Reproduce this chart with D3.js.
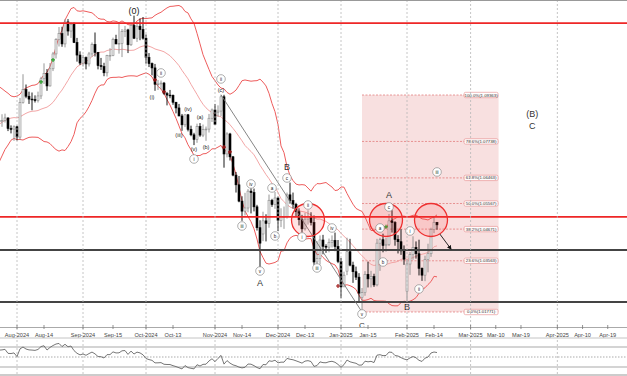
<!DOCTYPE html>
<html><head><meta charset="utf-8">
<script src="https://cdn.jsdelivr.net/npm/d3@7"></script>
<style>body{margin:0;background:#fff;}svg{display:block;font-family:"Liberation Sans",Arial,sans-serif;}</style>
</head><body><svg id="c" width="627" height="376"></svg>
<script>
// ---------------- DATA ----------------
const dates = ["2024-06-26","2024-06-27","2024-06-28","2024-07-01","2024-07-02","2024-07-03","2024-07-04","2024-07-05","2024-07-08","2024-07-09","2024-07-10","2024-07-11","2024-07-12","2024-07-15","2024-07-16","2024-07-17","2024-07-18","2024-07-19","2024-07-22","2024-07-23","2024-07-24","2024-07-25","2024-07-26","2024-07-29","2024-07-30","2024-07-31","2024-08-01","2024-08-02","2024-08-05","2024-08-06","2024-08-07","2024-08-08","2024-08-09","2024-08-12","2024-08-13","2024-08-14","2024-08-15","2024-08-16","2024-08-19","2024-08-20","2024-08-21","2024-08-22","2024-08-23","2024-08-26","2024-08-27","2024-08-28","2024-08-29","2024-08-30","2024-09-02","2024-09-03","2024-09-04","2024-09-05","2024-09-06","2024-09-09","2024-09-10","2024-09-11","2024-09-12","2024-09-13","2024-09-16","2024-09-17","2024-09-18","2024-09-19","2024-09-20","2024-09-23","2024-09-24","2024-09-25","2024-09-26","2024-09-27","2024-09-30","2024-10-01","2024-10-02","2024-10-03","2024-10-04","2024-10-07","2024-10-08","2024-10-09","2024-10-10","2024-10-11","2024-10-14","2024-10-15","2024-10-16","2024-10-17","2024-10-18","2024-10-21","2024-10-22","2024-10-23","2024-10-24","2024-10-25","2024-10-28","2024-10-29","2024-10-30","2024-10-31","2024-11-01","2024-11-04","2024-11-05","2024-11-06","2024-11-07","2024-11-08","2024-11-11","2024-11-12","2024-11-13","2024-11-14","2024-11-15","2024-11-18","2024-11-19","2024-11-20","2024-11-21","2024-11-22","2024-11-25","2024-11-26","2024-11-27","2024-11-28","2024-11-29","2024-12-02","2024-12-03","2024-12-04","2024-12-05","2024-12-06","2024-12-09","2024-12-10","2024-12-11","2024-12-12","2024-12-13","2024-12-16","2024-12-17","2024-12-18","2024-12-19","2024-12-20","2024-12-23","2024-12-24","2024-12-26","2024-12-27","2024-12-30","2024-12-31","2025-01-02","2025-01-03","2025-01-06","2025-01-07","2025-01-08","2025-01-09","2025-01-10","2025-01-13","2025-01-14","2025-01-15","2025-01-16","2025-01-17","2025-01-20","2025-01-21","2025-01-22","2025-01-23","2025-01-24","2025-01-27","2025-01-28","2025-01-29","2025-01-30","2025-01-31","2025-02-03","2025-02-04","2025-02-05","2025-02-06","2025-02-07","2025-02-10","2025-02-11","2025-02-12","2025-02-13","2025-02-14","2025-02-17"];
const opens = [1.0714,1.0682,1.0701,1.0713,1.0740,1.0742,1.0790,1.0810,1.0840,1.0825,1.0813,1.0830,1.0866,1.0907,1.0893,1.0899,1.0939,1.0898,1.0882,1.0891,1.0846,1.0843,1.0847,1.0856,1.0819,1.0817,1.0825,1.0789,1.0910,1.0955,1.0932,1.0922,1.0920,1.0917,1.0933,1.0993,1.1012,1.0968,1.1028,1.1080,1.1130,1.1151,1.1115,1.1192,1.1160,1.1184,1.1120,1.1076,1.1048,1.1067,1.1045,1.1080,1.1113,1.1085,1.1039,1.1036,1.1014,1.1074,1.1075,1.1131,1.1115,1.1117,1.1159,1.1164,1.1112,1.1180,1.1135,1.1177,1.1165,1.1135,1.1068,1.1046,1.1031,1.0974,1.0975,1.0978,1.0941,1.0936,1.0935,1.0911,1.0891,1.0863,1.0832,1.0867,1.0816,1.0797,1.0781,1.0826,1.0796,1.0815,1.0817,1.0855,1.0884,1.0875,1.0880,1.0930,1.0730,1.0800,1.0720,1.0656,1.0622,1.0565,1.0530,1.0541,1.0600,1.0595,1.0545,1.0472,1.0450,1.0496,1.0487,1.0568,1.0553,1.0576,1.0497,1.0511,1.0511,1.0587,1.0567,1.0554,1.0528,1.0500,1.0468,1.0502,1.0510,1.0490,1.0352,1.0365,1.0429,1.0407,1.0404,1.0421,1.0428,1.0406,1.0354,1.0265,1.0320,1.0388,1.0341,1.0318,1.0299,1.0228,1.0245,1.0309,1.0293,1.0301,1.0272,1.0418,1.0430,1.0410,1.0414,1.0496,1.0490,1.0431,1.0423,1.0391,1.0250,1.0345,1.0378,1.0403,1.0381,1.0330,1.0306,1.0361,1.0381,1.0466,1.0491];
const highs = [1.0717,1.0721,1.0724,1.0776,1.0750,1.0815,1.0817,1.0845,1.0845,1.0830,1.0834,1.0872,1.0910,1.0910,1.0902,1.0948,1.0946,1.0907,1.0905,1.0895,1.0868,1.0869,1.0871,1.0858,1.0830,1.0830,1.0829,1.0926,1.1009,1.0973,1.0948,1.0945,1.0935,1.0948,1.1000,1.1047,1.1027,1.1048,1.1087,1.1135,1.1174,1.1175,1.1201,1.1202,1.1190,1.1190,1.1136,1.1089,1.1077,1.1071,1.1087,1.1120,1.1155,1.1087,1.1066,1.1049,1.1077,1.1100,1.1137,1.1147,1.1189,1.1167,1.1178,1.1168,1.1189,1.1214,1.1191,1.1204,1.1209,1.1148,1.1083,1.1050,1.1045,1.0989,1.0987,1.0982,1.0947,1.0954,1.0938,1.0912,1.0905,1.0870,1.0869,1.0870,1.0829,1.0804,1.0836,1.0838,1.0833,1.0826,1.0870,1.0889,1.0905,1.0900,1.0937,1.0937,1.0806,1.0804,1.0723,1.0667,1.0653,1.0582,1.0594,1.0607,1.0610,1.0609,1.0552,1.0498,1.0528,1.0519,1.0588,1.0573,1.0597,1.0581,1.0540,1.0546,1.0595,1.0630,1.0595,1.0559,1.0540,1.0517,1.0524,1.0533,1.0526,1.0515,1.0425,1.0445,1.0447,1.0414,1.0434,1.0445,1.0455,1.0429,1.0366,1.0318,1.0437,1.0433,1.0353,1.0336,1.0313,1.0261,1.0320,1.0353,1.0321,1.0311,1.0433,1.0437,1.0451,1.0436,1.0520,1.0533,1.0495,1.0446,1.0467,1.0410,1.0361,1.0387,1.0442,1.0424,1.0430,1.0333,1.0374,1.0416,1.0472,1.0513,1.0491];
const lows = [1.0675,1.0677,1.0688,1.0709,1.0710,1.0735,1.0787,1.0795,1.0791,1.0800,1.0802,1.0826,1.0855,1.0878,1.0875,1.0894,1.0893,1.0869,1.0877,1.0838,1.0826,1.0825,1.0840,1.0810,1.0802,1.0776,1.0777,1.0779,1.0906,1.0925,1.0905,1.0883,1.0910,1.0910,1.0922,1.0975,1.0951,1.0966,1.1020,1.1064,1.1106,1.1105,1.1103,1.1144,1.1136,1.1118,1.1053,1.1041,1.1036,1.1026,1.1036,1.1070,1.1071,1.1026,1.1024,1.1002,1.1001,1.1056,1.1072,1.1114,1.1081,1.1069,1.1139,1.1083,1.1108,1.1132,1.1122,1.1128,1.1130,1.1046,1.1034,1.1005,1.0951,1.0954,1.0956,1.0937,1.0900,1.0925,1.0902,1.0872,1.0862,1.0811,1.0824,1.0809,1.0792,1.0761,1.0769,1.0790,1.0789,1.0776,1.0805,1.0842,1.0833,1.0860,1.0862,1.0682,1.0718,1.0707,1.0652,1.0595,1.0561,1.0496,1.0515,1.0526,1.0522,1.0529,1.0462,1.0332,1.0425,1.0424,1.0472,1.0545,1.0538,1.0460,1.0474,1.0468,1.0504,1.0556,1.0539,1.0510,1.0480,1.0455,1.0462,1.0483,1.0480,1.0342,1.0344,1.0343,1.0379,1.0384,1.0386,1.0403,1.0390,1.0348,1.0225,1.0270,1.0306,1.0337,1.0279,1.0289,1.0214,1.0177,1.0234,1.0263,1.0263,1.0265,1.0267,1.0321,1.0386,1.0388,1.0408,1.0455,1.0409,1.0382,1.0377,1.0342,1.0215,1.0307,1.0360,1.0364,1.0305,1.0286,1.0285,1.0316,1.0370,1.0453,1.0465];
const closes = [1.0682,1.0701,1.0713,1.0740,1.0742,1.0790,1.0810,1.0840,1.0825,1.0813,1.0830,1.0866,1.0907,1.0893,1.0899,1.0939,1.0898,1.0882,1.0891,1.0846,1.0843,1.0847,1.0856,1.0819,1.0817,1.0825,1.0789,1.0910,1.0955,1.0932,1.0922,1.0920,1.0917,1.0933,1.0993,1.1012,1.0968,1.1028,1.1080,1.1130,1.1151,1.1115,1.1192,1.1160,1.1184,1.1120,1.1076,1.1048,1.1067,1.1045,1.1080,1.1113,1.1085,1.1039,1.1036,1.1014,1.1074,1.1075,1.1131,1.1115,1.1117,1.1159,1.1164,1.1112,1.1180,1.1135,1.1177,1.1165,1.1135,1.1068,1.1046,1.1031,1.0974,1.0975,1.0978,1.0941,1.0936,1.0935,1.0911,1.0891,1.0863,1.0832,1.0867,1.0816,1.0797,1.0781,1.0826,1.0796,1.0815,1.0817,1.0855,1.0884,1.0833,1.0880,1.0930,1.0730,1.0800,1.0720,1.0656,1.0622,1.0565,1.0530,1.0541,1.0600,1.0595,1.0545,1.0472,1.0418,1.0496,1.0487,1.0568,1.0553,1.0576,1.0497,1.0511,1.0511,1.0587,1.0567,1.0554,1.0528,1.0500,1.0468,1.0502,1.0510,1.0490,1.0352,1.0365,1.0429,1.0407,1.0404,1.0421,1.0428,1.0406,1.0354,1.0265,1.0306,1.0388,1.0341,1.0318,1.0299,1.0243,1.0245,1.0309,1.0293,1.0301,1.0272,1.0418,1.0430,1.0410,1.0414,1.0496,1.0490,1.0431,1.0423,1.0391,1.0362,1.0345,1.0378,1.0403,1.0381,1.0330,1.0306,1.0361,1.0381,1.0466,1.0491,1.0482];

const tickLabels = ["Aug-2024","Aug-14","Sep-2024","Sep-15","Oct-2024","Oct-13","Nov-2024","Nov-14","Dec-2024","Dec-13","Jan-2025","Jan-15","Feb-2025","Feb-14","Mar-2025","Mar-10","Mar-19","Apr-2025","Apr-10","Apr-19"];
const tickDates  = ["2024-08-01","2024-08-14","2024-09-01","2024-09-15","2024-10-01","2024-10-13","2024-11-01","2024-11-14","2024-12-01","2024-12-13","2025-01-01","2025-01-15","2025-02-01","2025-02-14","2025-03-01","2025-03-10","2025-03-19","2025-04-01","2025-04-10","2025-04-19"];
const gridDates  = ["2024-08-01","2024-09-01","2024-10-01","2024-11-01","2024-12-01","2025-01-01","2025-02-01","2025-03-01","2025-04-01"];

const redLevels = [1.1188, 1.0510];
const blackLevels = [1.0394, 1.0212];

const fibLow = 1.01771, fibHigh = 1.09363;
const fibRatios = [0, 0.236, 0.382, 0.5, 0.618, 0.786, 1];
const fibStart = "2025-01-13", fibEnd = "2025-03-11";

const trendLine = [["2024-11-05",1.0937],["2025-01-13",1.0177]];
const arrowLine = [["2025-02-18",1.0450],["2025-02-22",1.03975]];
const circleMarks = [["2024-12-16",1.0499],["2025-01-23",1.0499],["2025-02-13",1.0499]];
const greenMarks = [["2024-08-13",1.0982],["2024-08-19",1.1059],["2025-01-23",1.0475]];
const redMarks = [["2024-10-04",1.0989],["2024-10-09",1.0947],["2024-11-06",1.0754],["2024-11-08",1.0737],["2024-12-31",1.0268]];

const plainLabels = [["(0)","2024-09-25",1.12303],["(i)","2024-10-03",1.09294],["(iii)","2024-10-16",1.07964],["(iv)","2024-10-21",1.08874],["(v)","2024-10-23",1.07474],["(a)","2024-10-25",1.08594],["(b)","2024-10-29",1.07544],["(c)","2024-11-05",1.09539]];
const circledLabels = [["ii","2024-10-08",1.10134],["i","2024-10-23",1.07124],["ii","2024-11-05",1.09924],["c","2024-12-05",1.06460],["iv","2024-11-19",1.06250],["a","2024-11-28",1.06110],["b","2024-11-29",1.04430],["iii","2024-11-14",1.04780],["v","2024-11-22",1.03206],["ii","2024-12-16",1.05515],["i","2024-12-12",1.04395],["iv","2024-12-27",1.04710],["iii","2024-12-19",1.03311],["v","2025-01-13",1.01701],["c","2025-01-24",1.05445],["a","2025-01-21",1.04710],["b","2025-01-22",1.03520],["i","2025-02-04",1.04605],["ii","2025-02-07",1.02576],["iii","2025-02-17",1.06670]];
const bigLabels = [["A","2024-11-22",1.02786],["B","2024-12-05",1.06844],["C","2025-01-13",1.01310],["A","2025-01-24",1.05865],["B","2025-02-03",1.01946],["(B)","2025-03-23",1.08699],["C","2025-03-23",1.08279]];

// ---------------- LAYOUT ----------------
const W = 627, mainBottom = 327, oscTop = 338, oscBottom = 375;
const futureStep = 0.933;
const svg = d3.select("#c");
const parse = d3.utcParse("%Y-%m-%d");
const barT = dates.map(d => parse(d).getTime());
const lastI = barT.length - 1;
function slot(s){
  const t = parse(s).getTime();
  if (t <= barT[lastI]) return d3.bisectLeft(barT, t);
  return lastI + (t - barT[lastI]) / 864e5 * futureStep;
}
const x = d3.scaleLinear().domain([26, 166]).range([17, 437]);
const y = d3.scaleLinear().domain([1.012462, 1.126867]).range([mainBottom, 0]);
const ry = d3.scaleLinear().domain([30, 70]).range([367, 347]);
const X = s => x(slot(s));

const defs = svg.append("defs");
defs.append("clipPath").attr("id","cm").append("rect").attr("x",0).attr("y",0).attr("width",W).attr("height",mainBottom);
defs.append("clipPath").attr("id","co").append("rect").attr("x",0).attr("y",oscTop).attr("width",W).attr("height",oscBottom-oscTop);
defs.append("marker").attr("id","arr").attr("viewBox","0 0 10 10").attr("refX",8).attr("refY",5)
  .attr("markerWidth",5).attr("markerHeight",5).attr("orient","auto")
  .append("path").attr("d","M0,0L10,5L0,10z").attr("fill","#111");

const main = svg.append("g").attr("clip-path","url(#cm)");

// fib box
const fx0 = X(fibStart), fx1 = X(fibEnd);
main.append("rect").attr("x",fx0).attr("y",y(fibHigh)).attr("width",fx1-fx0).attr("height",y(fibLow)-y(fibHigh))
  .attr("fill","#f8e0e0");

// grid
svg.append("g").selectAll("line").data(gridDates).join("line")
  .attr("x1",d=>X(d)).attr("x2",d=>X(d)).attr("y1",0).attr("y2",oscBottom)
  .attr("stroke","#b8b8b8").attr("stroke-width",0.8).attr("stroke-dasharray","2,2");

// fib lines
const fib = fibRatios.map(r => ({r, p: fibLow + r*(fibHigh-fibLow)}));
main.append("g").selectAll("line").data(fib).join("line")
  .attr("x1",fx0).attr("x2",fx1).attr("y1",d=>y(d.p)).attr("y2",d=>y(d.p))
  .attr("stroke","#e07070").attr("stroke-width",0.7).attr("stroke-dasharray","2,1.5");

// Bollinger bands (20, 2) derived from the closes
const bb = closes.map((c,i)=>{ if(i<19) return null; const w = closes.slice(i-19,i+1); const m = d3.mean(w);
  const sd = Math.sqrt(d3.mean(w, v=>(v-m)*(v-m))); return {i, m, u:m+2*sd, l:m-2*sd}; }).filter(Boolean);
const bl = k => d3.line().x(d=>x(d.i)).y(d=>y(d[k]));
main.append("path").attr("d",bl("m")(bb)).attr("fill","none").attr("stroke","#f3a6a6").attr("stroke-width",1);
main.append("path").attr("d",bl("u")(bb)).attr("fill","none").attr("stroke","#ee5c5c").attr("stroke-width",1);
main.append("path").attr("d",bl("l")(bb)).attr("fill","none").attr("stroke","#ee5c5c").attr("stroke-width",1);

// candles
const bars = dates.map((d,i)=>({i,o:opens[i],h:highs[i],l:lows[i],c:closes[i]}));
const cg = main.append("g");
cg.selectAll("line").data(bars).join("line")
  .attr("x1",d=>x(d.i)).attr("x2",d=>x(d.i)).attr("y1",d=>y(d.h)).attr("y2",d=>y(d.l))
  .attr("stroke",d=>d.c>=d.o?"#8a8a8a":"#000").attr("stroke-width",0.9);
cg.selectAll("rect").data(bars).join("rect")
  .attr("x",d=>x(d.i)-1).attr("width",2)
  .attr("y",d=>y(Math.max(d.o,d.c))).attr("height",d=>Math.max(0.8,Math.abs(y(d.o)-y(d.c))))
  .attr("fill",d=>d.c>=d.o?"#eeeeee":"#000").attr("stroke",d=>d.c>=d.o?"#8a8a8a":"#000").attr("stroke-width",0.6);

// signal markers
const mk = (arr,col) => main.append("g").selectAll("path").data(arr).join("path")
  .attr("d",d=>{const cx=X(d[0]), cy=y(d[1]); return `M${cx-2},${cy}H${cx+2}M${cx},${cy-2}V${cy+2}`;})
  .attr("stroke",col).attr("stroke-width",1.2);
mk(greenMarks,"#2aa02a"); mk(redMarks,"#a01818");

// horizontal levels
main.append("g").selectAll("line").data(redLevels).join("line")
  .attr("x1",0).attr("x2",W).attr("y1",d=>y(d)).attr("y2",d=>y(d)).attr("stroke","#ee2626").attr("stroke-width",1.8);
main.append("g").selectAll("line").data(blackLevels).join("line")
  .attr("x1",0).attr("x2",W).attr("y1",d=>y(d)).attr("y2",d=>y(d)).attr("stroke","#444").attr("stroke-width",1.8);

// fib labels
const fl = main.append("g").selectAll("g").data(fib).join("g")
  .attr("transform",d=>`translate(${fx1},${y(d.p)})`);
fl.append("rect").attr("x",-34.5).attr("y",-2.7).attr("width",34).attr("height",5.4).attr("rx",1.5)
  .attr("fill","#fff").attr("fill-opacity",0.85).attr("stroke","#e58a8a").attr("stroke-width",0.6);
fl.append("text").attr("x",-17.5).attr("y",1.5).attr("text-anchor","middle").attr("font-size",4.3).attr("fill","#333")
  .text(d=>`${(d.r*100).toFixed(1)}%(${d.p.toFixed(5)})`);

// trend line and arrow
main.append("line").attr("x1",X(trendLine[0][0])).attr("y1",y(trendLine[0][1])).attr("x2",X(trendLine[1][0])).attr("y2",y(trendLine[1][1]))
  .attr("stroke","#777").attr("stroke-width",0.9);
main.append("line").attr("x1",X(arrowLine[0][0])).attr("y1",y(arrowLine[0][1])).attr("x2",X(arrowLine[1][0])).attr("y2",y(arrowLine[1][1]))
  .attr("stroke","#111").attr("stroke-width",0.9).attr("marker-end","url(#arr)");

// red circles
main.append("g").selectAll("circle").data(circleMarks).join("circle")
  .attr("cx",d=>X(d[0])).attr("cy",d=>y(d[1])).attr("r",16.5)
  .attr("fill","rgba(255,60,60,0.14)").attr("stroke","#ee3030").attr("stroke-width",1.3);

// wave labels
main.append("g").selectAll("text").data(plainLabels).join("text")
  .attr("x",d=>X(d[1])).attr("y",d=>y(d[2])).attr("dy","0.35em").attr("text-anchor","middle")
  .attr("font-size",d=>d[0]==="(0)"?9:5.5).attr("fill","#222").text(d=>d[0]);
const cl = main.append("g").selectAll("g").data(circledLabels).join("g")
  .attr("transform",d=>`translate(${X(d[1])},${y(d[2])})`);
cl.append("circle").attr("r",4.3).attr("fill","#fff").attr("stroke","#8c8c8c").attr("stroke-width",0.7);
cl.append("text").attr("dy","0.35em").attr("text-anchor","middle").attr("font-size",4.6).attr("fill","#222").text(d=>d[0]);
main.append("g").selectAll("text").data(bigLabels).join("text")
  .attr("x",d=>X(d[1])).attr("y",d=>y(d[2])).attr("dy","0.35em").attr("text-anchor","middle")
  .attr("font-size",d=>d[0]==="C"&&d[1]<"2025-02"?8:9).attr("fill","#333").text(d=>d[0]);

// frame + axis
svg.append("line").attr("x1",0).attr("x2",W).attr("y1",0.5).attr("y2",0.5).attr("stroke","#999");
svg.append("line").attr("x1",0).attr("x2",W).attr("y1",mainBottom+0.5).attr("y2",mainBottom+0.5).attr("stroke","#aaa");
const ticks = tickLabels.map((t,i)=>({t, x: X(tickDates[i])}));
svg.append("g").selectAll("line").data(ticks).join("line")
  .attr("x1",d=>d.x).attr("x2",d=>d.x).attr("y1",mainBottom-2).attr("y2",mainBottom+2).attr("stroke","#777").attr("stroke-width",0.8);
svg.append("g").selectAll("text").data(ticks).join("text")
  .attr("x",d=>d.x).attr("y",336.5).attr("text-anchor","middle").attr("font-size",5.6).attr("fill","#444").text(d=>d.t);

// oscillator panel (RSI 14 derived from the closes)
function rsi(cl,n){ const out = cl.map(()=>null); let g=0,l=0;
  for(let i=1;i<=n;i++){const d=cl[i]-cl[i-1]; if(d>0)g+=d; else l-=d;} g/=n; l/=n; out[n]=100-100/(1+g/l);
  for(let i=n+1;i<cl.length;i++){const d=cl[i]-cl[i-1]; g=(g*(n-1)+Math.max(d,0))/n; l=(l*(n-1)+Math.max(-d,0))/n; out[i]=l===0?100:100-100/(1+g/l);}
  return out; }
const rv = rsi(closes,14).map((v,i)=>({i,v})).filter(d=>d.v!==null);
svg.append("line").attr("x1",0).attr("x2",W).attr("y1",oscTop).attr("y2",oscTop).attr("stroke","#c4c4c4");
svg.append("g").selectAll("line").data([70,30]).join("line")
  .attr("x1",0).attr("x2",W).attr("y1",d=>ry(d)).attr("y2",d=>ry(d)).attr("stroke","#aaa").attr("stroke-width",1.2);
svg.append("line").attr("x1",0).attr("x2",W).attr("y1",ry(50)).attr("y2",ry(50)).attr("stroke","#888").attr("stroke-width",0.7).attr("stroke-dasharray","1.5,1.5");
svg.append("line").attr("x1",0).attr("x2",W).attr("y1",oscBottom).attr("y2",oscBottom).attr("stroke","#999").attr("stroke-width",1.2);
svg.append("g").attr("clip-path","url(#co)").append("path")
  .attr("d",d3.line().x(d=>x(d.i)).y(d=>ry(d.v))(rv)).attr("fill","none").attr("stroke","#666").attr("stroke-width",0.9);
</script></body></html>
